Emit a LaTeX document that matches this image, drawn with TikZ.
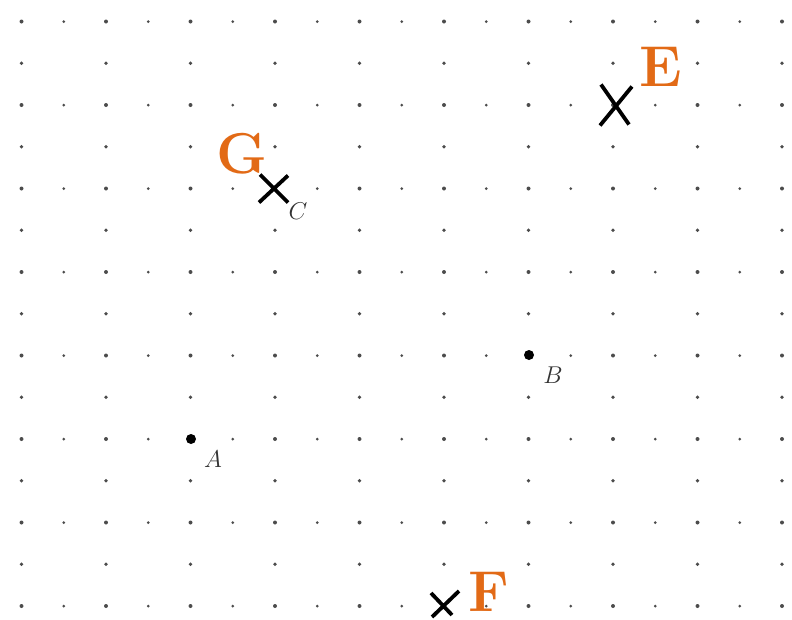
\documentclass[tikz,border=0pt]{standalone}
\definecolor{lblorange}{RGB}{226,106,22}
\begin{document}
\begin{tikzpicture}[x=0.025cm,y=-0.025cm,
  gdot/.style={fill=black!70},
  ptdot/.style={fill=black},
  cross/.style={line width=2.7pt, draw=black},
  biglbl/.style={text=lblorange, font=\fontsize{41}{48}\selectfont\bfseries, inner sep=0pt},
  smalllbl/.style={text=black!80, font=\fontsize{19}{22}\selectfont, inner sep=0pt}]
\useasboundingbox (0,0) rectangle (792,620);
% dot grid
\foreach \j in {0,2,...,14}{
  \foreach \i in {0,2,...,18}{\fill[gdot] ({21.5+42.25*\i},{21.5+41.75*\j}) circle[radius=2];}
  \foreach \i in {1,3,...,17}{\fill[gdot] ({21.5+42.25*\i},{21.5+41.75*\j}) circle[radius=1.5];}
}
\foreach \j in {1,3,...,13}{
  \foreach \i in {0,2,...,18}{\fill[gdot] ({21.5+42.25*\i},{21.5+41.75*\j}) circle[radius=1.8];}
}
% points
\coordinate (A) at (191,439);
\coordinate (B) at (529,355);
\coordinate (C) at (274,188.5);
\coordinate (E) at (615,104.5);
\coordinate (F) at (444,605);
\fill[ptdot] (A) circle[radius=5];
\fill[ptdot] (B) circle[radius=5];
\draw[cross, shift={(C)}] (-14,-14) -- (14,14) (14,-13) -- (-15,14);
\draw[cross, shift={(E)}] (-14,-20) -- (14,20) (17,-18) -- (-15,21);
\draw[cross, shift={(F)}] (-13,-12) -- (8,10) (15,-14) -- (-12,12);
% labels
\node[smalllbl] (lA) at (213,459) {$A$};
\node[smalllbl] (lB) at (553,375) {$B$};
\node[smalllbl] (lC) at (298,211) {$C$};
\node[biglbl] (lG) at (242,154) {G};
\node[biglbl] (lE) at (661,67) {E};
\node[biglbl] (lF) at (489,592) {F};
\end{tikzpicture}
\end{document}
